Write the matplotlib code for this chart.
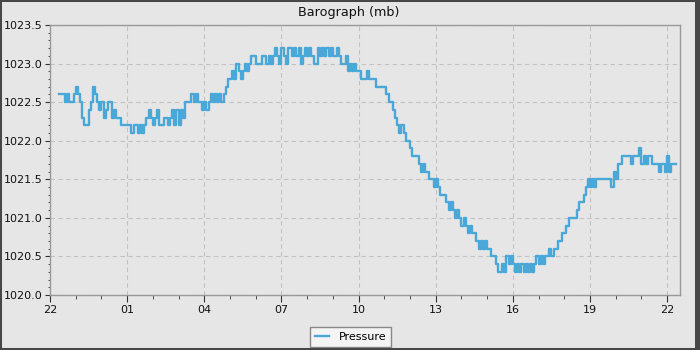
import numpy as np
import matplotlib

matplotlib.use("Agg")
import matplotlib.pyplot as plt
import matplotlib.dates as mdates
from matplotlib.patches import Rectangle
from matplotlib.ticker import MultipleLocator, FormatStrFormatter

# barograph readings every 5 minutes from 22:20, in tenths of a mb above BASE_MB
START = np.datetime64("2024-03-09T22:20")
STEP = np.timedelta64(5, "m")
BASE_MB = 1020.0
TENTHS = [
    26, 26, 26, 25, 26, 25, 25, 26, 27, 26, 25, 23,  # 22h
    22, 22, 24, 25, 27, 26, 25, 24, 25, 23, 24, 25,  # 23h
    25, 23, 24, 23, 23, 22, 22, 22, 22, 22, 21, 22,  # 00h
    22, 21, 22, 21, 22, 23, 24, 23, 22, 23, 24, 22,  # 01h
    22, 23, 23, 22, 23, 24, 22, 24, 22, 24, 23, 25,  # 02h
    25, 25, 26, 25, 26, 25, 25, 24, 25, 24, 25, 26,  # 03h
    25, 26, 25, 26, 25, 26, 27, 28, 28, 29, 28, 30,  # 04h
    29, 28, 29, 30, 29, 30, 31, 31, 30, 30, 30, 31,  # 05h
    31, 30, 31, 30, 31, 32, 31, 30, 32, 31, 30, 32,  # 06h
    32, 31, 32, 31, 32, 30, 31, 32, 31, 32, 31, 30,  # 07h
    30, 32, 31, 32, 31, 32, 31, 32, 31, 31, 32, 31,  # 08h
    30, 30, 31, 29, 30, 29, 30, 29, 29, 28, 28, 28,  # 09h
    29, 28, 28, 28, 27, 27, 27, 27, 27, 26, 25, 25,  # 10h
    24, 23, 22, 21, 22, 21, 20, 20, 19, 18, 18, 18,  # 11h
    17, 16, 17, 16, 16, 15, 15, 14, 15, 14, 13, 13,  # 12h
    13, 12, 11, 12, 11, 10, 11, 10, 9, 10, 9, 8,  # 13h
    9, 8, 8, 7, 6, 7, 6, 7, 6, 6, 5, 5,  # 14h
    4, 3, 3, 4, 3, 5, 4, 5, 4, 3, 4, 3,  # 15h
    4, 3, 4, 3, 4, 3, 4, 5, 4, 5, 4, 5,  # 16h
    5, 6, 5, 6, 6, 7, 7, 8, 8, 9, 10, 10,  # 17h
    10, 10, 11, 12, 12, 13, 14, 15, 14, 15, 14, 15,  # 18h
    15, 15, 15, 15, 15, 15, 14, 16, 15, 17, 17, 18,  # 19h
    18, 18, 18, 17, 18, 18, 18, 19, 17, 18, 17, 18,  # 20h
    18, 17, 17, 17, 16, 17, 17, 16, 18, 16, 17, 17,  # 21h
    17,
]

X_START = np.datetime64("2024-03-09T22:00")
X_END = np.datetime64("2024-03-10T22:30")

BG = "#e6e6e6"
LINE = "#4aa8d8"
SPINE = "#999999"
GRID = "#c2c2c2"

times = START + np.arange(len(TENTHS)) * STEP
mb = BASE_MB + np.array(TENTHS) / 10.0

fig = plt.figure(figsize=(7, 3.5), dpi=100, facecolor=BG)
ax = fig.add_axes([50 / 700, 55 / 350, 630 / 700, 270 / 350], facecolor=BG)

ax.plot(times, mb, drawstyle="steps-post", color=LINE, lw=1.7, label="Pressure")

ax.set_xlim(X_START, X_END)
ax.set_ylim(1020.0, 1023.5)
ax.xaxis.set_major_locator(mdates.HourLocator(byhour=[1, 4, 7, 10, 13, 16, 19, 22]))
ax.xaxis.set_minor_locator(mdates.HourLocator())
ax.xaxis.set_major_formatter(mdates.DateFormatter("%H"))
ax.yaxis.set_major_locator(MultipleLocator(0.5))
ax.yaxis.set_minor_locator(MultipleLocator(0.1))
ax.yaxis.set_major_formatter(FormatStrFormatter("%.1f"))

ax.grid(True, which="major", ls=(0, (4, 3)), color=GRID, lw=0.8)
ax.set_axisbelow(True)
for s in ax.spines.values():
    s.set_color(SPINE)
    s.set_linewidth(1.0)
ax.tick_params(axis="both", which="both", direction="out", color="#333333",
               labelsize=8, labelcolor="#111111")
ax.tick_params(axis="x", which="major", length=5, pad=2)
ax.tick_params(axis="x", which="minor", length=3)
ax.tick_params(axis="y", which="major", length=3.6, pad=1.5)
ax.tick_params(axis="y", which="minor", length=1.8)

fig.text(0.498, 1 - 16 / 350, "Barograph (mb)", ha="center", va="baseline",
         fontsize=9.2, color="#111111")

leg = fig.legend(loc="lower center", bbox_to_anchor=(0.501, 3 / 350), fontsize=8,
                 frameon=True, fancybox=False, edgecolor="#888888",
                 facecolor="#f4f4f4", framealpha=1, handlelength=1.2,
                 handletextpad=0.9, borderpad=0.45, borderaxespad=0)
leg.get_frame().set_linewidth(1.0)

# dark frame round the picture
fig.patches.append(Rectangle((0, 0), 1, 1, transform=fig.transFigure, fill=False,
                             edgecolor="#474747", lw=2.9, zorder=10))
fig.patches.append(Rectangle((695 / 700, 0), 5 / 700, 1, transform=fig.transFigure,
                             facecolor="#474747", edgecolor="none", zorder=10))

fig.savefig("out.png", dpi=100, facecolor=BG)
